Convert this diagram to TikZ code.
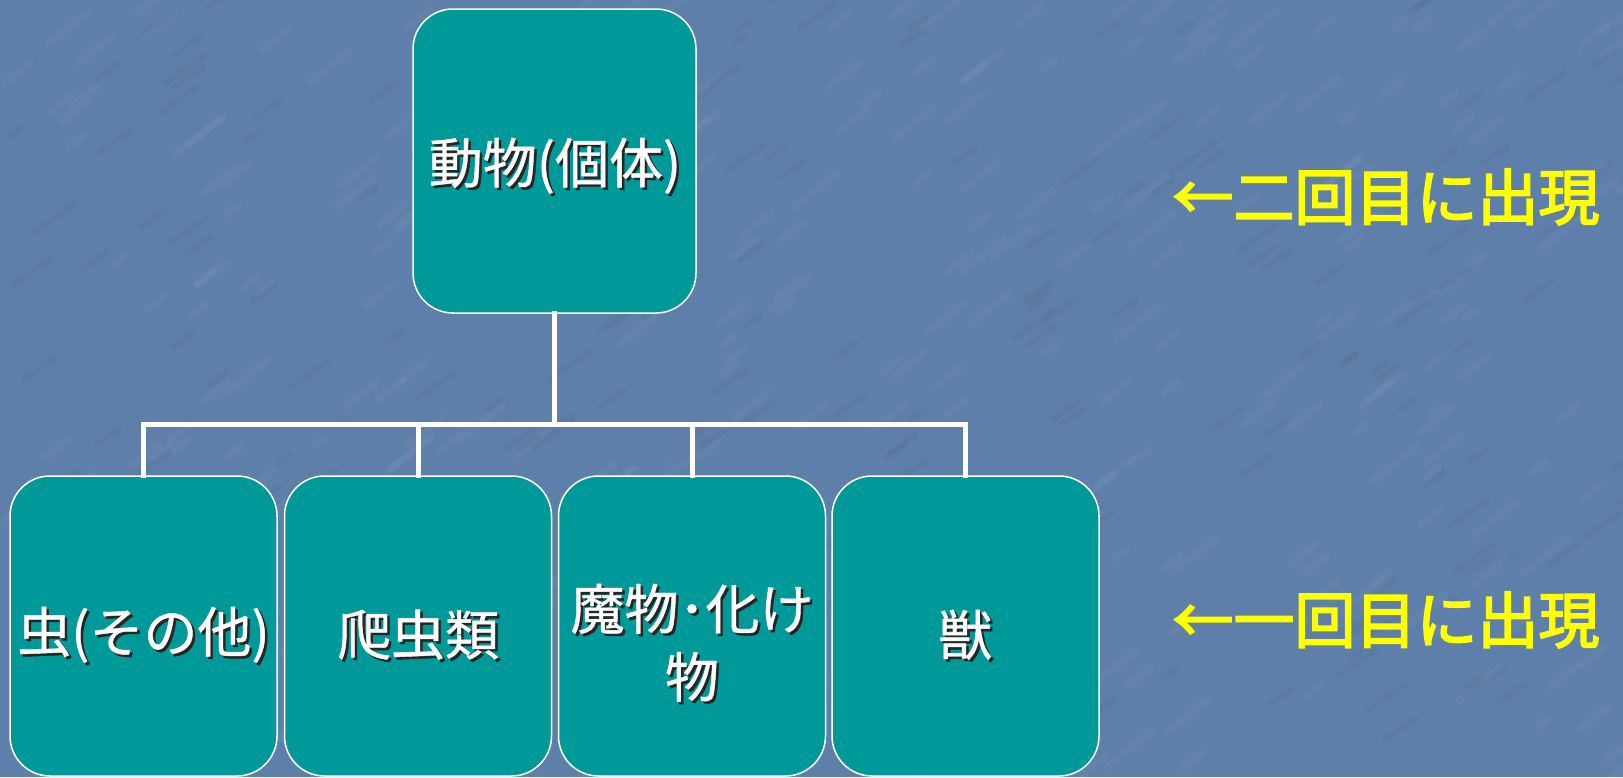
\documentclass[tikz,border=0pt]{standalone}
\usepackage{fontspec}
\newfontfamily\jp[FakeBold=0.8]{Noto Sans CJK JP}
\newfontfamily\jpy[FakeBold=3]{Noto Sans CJK JP}
\definecolor{bgblue}{HTML}{5E7FA9}
\definecolor{boxteal}{HTML}{009999}
\definecolor{labyellow}{HTML}{FFFF00}
\newcommand\sh[1]{\leavevmode\rlap{\hspace{2.5pt}\raisebox{-2.5pt}{\color{black!85}#1}}#1}
\tikzset{
  box/.style={draw=white, line width=1.5pt, fill=boxteal, rounded corners=40pt,
    inner sep=0pt, minimum width=267pt, minimum height=300pt},
  topbox/.style={box, minimum width=283pt, minimum height=304pt},
  wtext/.style={text=white, font=\jp\fontsize{54}{68}\selectfont, align=center, inner sep=0pt},
  ylab/.style={text=labyellow, font=\jpy\fontsize{61}{70}\selectfont, inner sep=0pt},
  conn/.style={draw=white, line width=5pt, line join=miter, line cap=rect},
  streak/.style={line width=7pt, line cap=round, draw=white, opacity=0.035},
  dstreak/.style={line width=6pt, line cap=round, draw=black, opacity=0.03}
}
\begin{document}
\begin{tikzpicture}[x=1pt, y=-1pt]
\useasboundingbox (0,0) rectangle (1623,777);
\fill[bgblue] (0,0) rectangle (1623,777);
% faint background texture
\pgfmathsetseed{7}
\foreach \i in {1,...,300}{
  \pgfmathsetmacro{\px}{random(0,1623)}
  \pgfmathsetmacro{\py}{random(0,777)}
  \pgfmathsetmacro{\pl}{random(10,45)}
  \draw[streak] (\px,\py) -- ++(\pl,-0.8*\pl);
}
\foreach \i in {1,...,200}{
  \pgfmathsetmacro{\px}{random(0,1623)}
  \pgfmathsetmacro{\py}{random(0,777)}
  \pgfmathsetmacro{\pl}{random(10,40)}
  \draw[dstreak] (\px,\py) -- ++(\pl,-0.7*\pl);
}
% boxes
\node[topbox] (top) at (554.5,161) {};
\node[box] (b1) at (143.5,626) {};
\node[box] (b2) at (418,626) {};
\node[box] (b3) at (692,626) {};
\node[box] (b4) at (965.5,626) {};
% connectors
\coordinate (bus) at (554.5,424);
\draw[conn] (top.south) -- (bus);
\draw[conn] (b1.north) |- (b4.north |- bus) -- (b4.north);
\draw[conn] (b2.north) -- (b2.north |- bus);
\draw[conn] (b3.north) -- (b3.north |- bus);
% texts
\node[wtext] (ttop) at (555,167) {\sh{動物(個体)}};
\node[wtext] (t1) at (143.5,636) {\sh{虫(その他)}};
\node[wtext] (t2) at (418,636) {\sh{爬虫類}};
\node[wtext] (t3) at (692,644) {\sh{魔物･化け}\\\sh{物}};
\node[wtext] (t4) at (965.5,636) {\sh{獣}};
% labels
\node[ylab] (lab2) at (1386,197) {←二回目に出現};
\node[ylab] (lab1) at (1386,620) {←一回目に出現};
\end{tikzpicture}
\end{document}
